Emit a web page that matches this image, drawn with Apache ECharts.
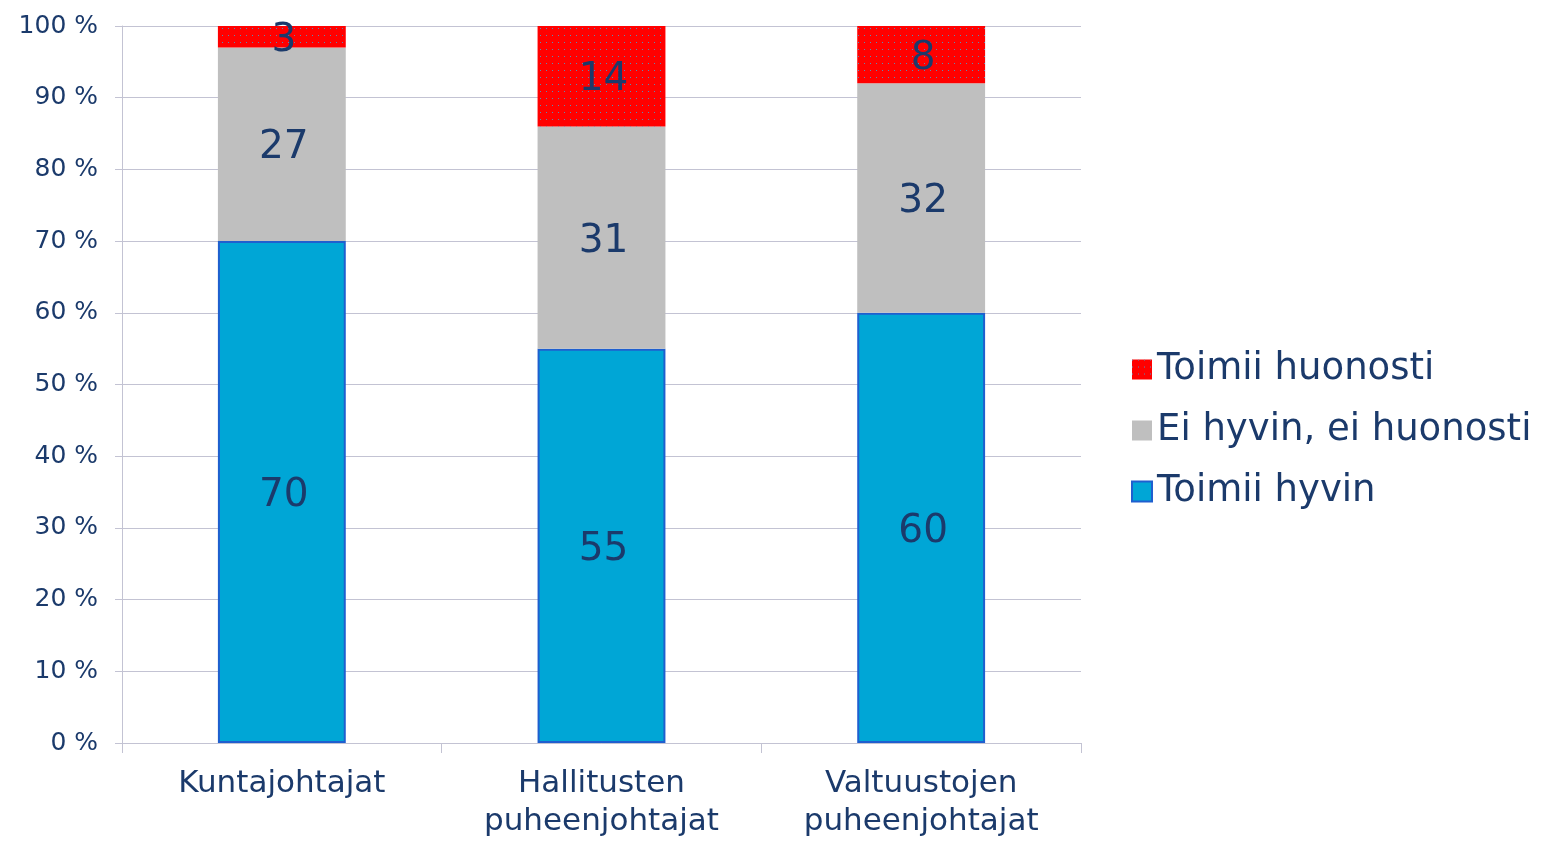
<!DOCTYPE html>
<html>
<head>
<meta charset="utf-8">
<script src="https://cdn.jsdelivr.net/npm/echarts@6/dist/echarts.min.js"></script>
<style>
  html, body { margin: 0; padding: 0; background: #fff; }
  #chart { width: 1546px; height: 841px; }
</style>
</head>
<body>
<div id="chart"></div>
<script>
// kategoriat ja osuudet (%)
const categories = ['Kuntajohtajat', 'Hallitusten\npuheenjohtajat', 'Valtuustojen\npuheenjohtajat'];
const toimiiHyvin = [70, 55, 60];
const eiHyvinEiHuonosti = [27, 31, 32];
const toimiiHuonosti = [3, 14, 8];
const yTicks = [0, 10, 20, 30, 40, 50, 60, 70, 80, 90, 100];

const textColor = '#1B3A6B';
const lineColor = '#C3C3D3';
const font = 'DejaVu Sans';

const chart = echarts.init(document.getElementById('chart'));

const labelStyle = {
  show: true,
  position: 'inside',
  offset: [2, 4],
  color: textColor,
  fontFamily: font,
  fontSize: 39
};

const option = {
  animation: false,
  grid: { left: 122, right: 465, top: 26, bottom: 96 },
  legend: {
    orient: 'vertical',
    left: 1126,
    top: 346,
    icon: 'rect',
    itemWidth: 20,
    itemHeight: 20,
    itemGap: 24,
    data: ['Toimii huonosti', 'Ei hyvin, ei huonosti', 'Toimii hyvin'],
    textStyle: { color: textColor, fontFamily: font, fontSize: 37 }
  },
  xAxis: {
    type: 'category',
    data: categories,
    axisLine: { lineStyle: { color: lineColor } },
    axisTick: { show: true, length: 10, lineStyle: { color: lineColor } },
    axisLabel: {
      color: textColor,
      fontFamily: font,
      fontSize: 31,
      lineHeight: 38,
      margin: 22
    }
  },
  yAxis: {
    type: 'value',
    min: 0,
    max: 100,
    interval: 10,
    axisLine: { show: true, lineStyle: { color: lineColor } },
    axisTick: { show: true, length: 7, lineStyle: { color: lineColor } },
    splitLine: { lineStyle: { color: lineColor } },
    axisLabel: {
      color: textColor,
      fontFamily: font,
      fontSize: 25,
      margin: 24,
      formatter: v => yTicks.includes(v) ? v + ' %' : ''
    }
  },
  series: [
    {
      name: 'Toimii hyvin',
      type: 'bar',
      stack: 'total',
      barWidth: '40%',
      data: toimiiHyvin,
      itemStyle: { color: '#00A6D6', borderColor: '#1F5FCF', borderWidth: 2 },
      label: labelStyle
    },
    {
      name: 'Ei hyvin, ei huonosti',
      type: 'bar',
      stack: 'total',
      data: eiHyvinEiHuonosti,
      itemStyle: { color: '#BFBFBF' },
      label: labelStyle
    },
    {
      name: 'Toimii huonosti',
      type: 'bar',
      stack: 'total',
      data: toimiiHuonosti,
      itemStyle: {
        color: '#FF0000',
        decal: {
          symbol: 'rect',
          symbolSize: 1,
          color: '#5A8CB4',
          dashArrayX: [1, 5],
          dashArrayY: [1, 6],
          rotation: 0
        }
      },
      label: labelStyle
    }
  ]
};

chart.setOption(option);
</script>
</body>
</html>
